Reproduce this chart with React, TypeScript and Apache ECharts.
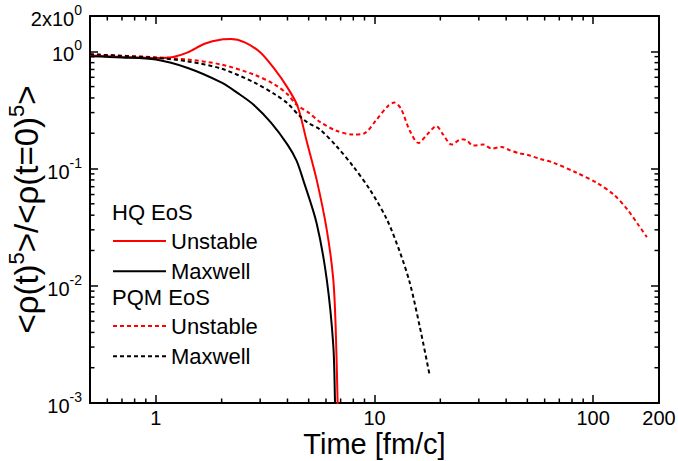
import React, { useEffect, useRef } from "react";
import * as echarts from "echarts";

// Axis ranges
const X_MIN = 0.5;
const X_MAX = 200;
const Y_MIN = 0.001;
const Y_MAX = 2;

// Minor tick values
const X_MINOR = [0.6, 0.7, 0.8, 0.9, 2, 3, 4, 5, 6, 7, 8, 9, 20, 30, 40, 50, 60, 70, 80, 90];
const Y_MINOR = [
  0.002, 0.003, 0.004, 0.005, 0.006, 0.007, 0.008, 0.009,
  0.02, 0.03, 0.04, 0.05, 0.06, 0.07, 0.08, 0.09,
  0.2, 0.3, 0.4, 0.5, 0.6, 0.7, 0.8, 0.9,
];

// HQ EoS, Unstable (red solid)
const hqUnstableT = [0.5, 0.7, 1.0, 1.2, 1.4, 1.67, 2.0, 2.2, 2.55, 3.0, 3.5, 4.0, 4.45, 4.9, 5.44, 6.05, 6.48, 6.65, 6.8];
const hqUnstableR = [0.92, 0.895, 0.875, 0.895, 0.98, 1.16, 1.26, 1.27, 1.19, 0.98, 0.7, 0.49, 0.34, 0.17, 0.08, 0.03, 0.0113, 0.0042, 0.0008];

// HQ EoS, Maxwell (black solid)
const hqMaxwellT = [0.5, 0.7, 1.0, 1.4, 2.0, 2.37, 2.8, 3.37, 4.0, 4.4, 4.72, 5.44, 6.05, 6.48, 6.6, 6.63];
const hqMaxwellR = [0.906, 0.885, 0.85, 0.72, 0.54, 0.44, 0.35, 0.245, 0.16, 0.117, 0.08, 0.034, 0.0113, 0.0031, 0.001, 0.0007];

// PQM EoS, Unstable (red dashed)
const pqmUnstableT = [0.5, 1.0, 1.4, 2.0, 2.83, 3.5, 4.0, 4.4, 5.0, 5.63, 6.7, 8.0, 9.0, 10.2, 11.5, 12.3, 13.2, 14.5, 15.9, 17.4, 19.2, 20.6, 22.5, 25.0, 26.4, 28.2, 31.5, 34.3, 38.1, 41.6, 46, 50, 57, 66, 84, 104, 124, 143, 161, 176];
const pqmUnstableR = [0.94, 0.89, 0.85, 0.77, 0.63, 0.52, 0.43, 0.35, 0.3, 0.25, 0.21, 0.195, 0.2, 0.26, 0.34, 0.365, 0.325, 0.21, 0.165, 0.195, 0.23, 0.195, 0.16, 0.178, 0.174, 0.157, 0.16, 0.148, 0.153, 0.143, 0.135, 0.131, 0.121, 0.112, 0.092, 0.0755, 0.06, 0.045, 0.033, 0.026];

// PQM EoS, Maxwell (black dashed)
const pqmMaxwellT = [0.5, 1.0, 1.4, 2.0, 2.83, 3.5, 4.0, 4.56, 4.97, 5.63, 6.7, 8.0, 9.53, 11.4, 13.1, 14.5, 16.1, 17.9];
const pqmMaxwellR = [0.943, 0.878, 0.82, 0.71, 0.54, 0.43, 0.36, 0.279, 0.245, 0.215, 0.155, 0.104, 0.066, 0.0367, 0.0191, 0.0106, 0.0045, 0.0017];

const SERIES_NAMES = ["HQ Unstable", "HQ Maxwell", "PQM Unstable", "PQM Maxwell"];
const GROUP_TITLES = ["HQ EoS", "PQM EoS"];

const FONT = "'Liberation Sans', Arial, Helvetica, sans-serif";

const zip = (a: number[], b: number[]) => a.map((v, i) => [v, b[i]]);

export default function App() {
  const ref = useRef<HTMLDivElement>(null);

  useEffect(() => {
    if (!ref.current) return;
    const chart = echarts.init(ref.current, undefined, { renderer: "svg" });

    const lineSeries = (name: string, data: number[][], color: string, dashed: boolean) => ({
      name,
      type: "line",
      data,
      xAxisIndex: 0,
      yAxisIndex: 0,
      symbol: "none",
      smooth: 0.3,
      clip: true,
      lineStyle: { color, width: 2, type: dashed ? [4, 3] : "solid" },
      itemStyle: { color },
    });

    const tickStyle = { stroke: "#000", lineWidth: 1.5 };

    const labelRich = {
      b: { fontSize: 20, fontFamily: FONT, color: "#000", lineHeight: 26, verticalAlign: "bottom" },
      s: { fontSize: 14, fontFamily: FONT, color: "#000", lineHeight: 14, verticalAlign: "top" },
    };

    const commonX = {
      type: "log",
      logBase: 10,
      min: X_MIN,
      max: X_MAX,
      splitLine: { show: false },
      axisLine: { show: true, onZero: false, lineStyle: { color: "#000", width: 2 } },
      axisTick: { show: true, inside: true, length: 8, lineStyle: { color: "#000", width: 1.5 } },
    };
    const commonY = {
      type: "log",
      logBase: 10,
      min: Y_MIN,
      max: Y_MAX,
      splitLine: { show: false },
      axisLine: { show: true, onZero: false, lineStyle: { color: "#000", width: 2 } },
      axisTick: { show: true, inside: true, length: 8, lineStyle: { color: "#000", width: 1.5 } },
    };

    const legendBase = {
      orient: "vertical",
      left: 112,
      padding: 0,
      itemWidth: 53,
      itemHeight: 20,
      itemGap: 8.33,
      selectedMode: false,
      itemStyle: { opacity: 0, borderWidth: 0 },
      formatter: (n: string) => n.replace(/^(HQ|PQM) /, ""),
      textStyle: { fontSize: 22, fontFamily: FONT, color: "#000", lineHeight: 20 },
    };

    const option: any = {
      animation: false,
      backgroundColor: "#fff",
      grid: { left: 90, right: 19, top: 16, bottom: 58, containLabel: false, outerBoundsMode: "none" },
      xAxis: [
        {
          ...commonX,
          position: "bottom",
          name: "Time [fm/c]",
          nameLocation: "middle",
          nameGap: 26,
          nameMoveOverlap: false,
          nameTextStyle: { fontSize: 29, fontFamily: FONT, color: "#000" },
          axisLabel: {
            show: true,
            margin: 5,
            fontSize: 20,
            fontFamily: FONT,
            color: "#000",
            formatter: (v: number) => (v < 0.9 ? "" : String(Math.round(v))),
          },
        },
        { ...commonX, position: "top", axisLabel: { show: false } },
      ],
      yAxis: [
        {
          ...commonY,
          position: "left",
          name: "<ρ(t){s|5}>/<ρ(t=0){s|5}>",
          nameLocation: "middle",
          nameGap: 43,
          nameMoveOverlap: false,
          nameTextStyle: {
            fontSize: 33,
            fontFamily: FONT,
            color: "#000",
            rich: {
              s: { fontSize: 22, fontFamily: FONT, color: "#000", verticalAlign: "top", lineHeight: 22 },
            },
            lineHeight: 42,
          },
          axisLabel: {
            show: true,
            margin: 8,
            formatter: (v: number) => {
              if (Math.abs(v - 2) < 1e-6) return "{b|2x10}{s|0}";
              const e = Math.round(Math.log10(v));
              return "{b|10}{s|" + e + "}";
            },
            rich: labelRich,
          },
        },
        { ...commonY, position: "right", axisLabel: { show: false } },
      ],
      legend: [
        { ...legendBase, data: [SERIES_NAMES[0], SERIES_NAMES[1]], top: 230 },
        { ...legendBase, data: [SERIES_NAMES[2], SERIES_NAMES[3]], top: 315 },
      ],
      graphic: [
        {
          type: "text",
          left: 112,
          top: 201,
          style: { text: GROUP_TITLES[0], fontSize: 22, fontFamily: FONT, fill: "#000" },
        },
        {
          type: "text",
          left: 112,
          top: 286,
          style: { text: GROUP_TITLES[1], fontSize: 22, fontFamily: FONT, fill: "#000" },
        },
      ],
      series: [
        lineSeries(SERIES_NAMES[0], zip(hqUnstableT, hqUnstableR), "#ff0000", false),
        lineSeries(SERIES_NAMES[1], zip(hqMaxwellT, hqMaxwellR), "#000000", false),
        lineSeries(SERIES_NAMES[2], zip(pqmUnstableT, pqmUnstableR), "#ff0000", true),
        lineSeries(SERIES_NAMES[3], zip(pqmMaxwellT, pqmMaxwellR), "#000000", true),
        {
          type: "custom",
          silent: true,
          xAxisIndex: 0,
          yAxisIndex: 0,
          data: X_MINOR.map((v) => [v, Y_MIN]),
          renderItem: (_p: any, api: any) => {
            const v = api.value(0);
            const b = api.coord([v, Y_MIN]);
            const t = api.coord([v, Y_MAX]);
            return {
              type: "group",
              children: [
                { type: "line", shape: { x1: b[0], y1: b[1], x2: b[0], y2: b[1] - 4.5 }, style: tickStyle },
                { type: "line", shape: { x1: t[0], y1: t[1], x2: t[0], y2: t[1] + 4.5 }, style: tickStyle },
              ],
            };
          },
        },
        {
          type: "custom",
          silent: true,
          xAxisIndex: 0,
          yAxisIndex: 0,
          data: Y_MINOR.map((v) => [X_MIN, v]),
          renderItem: (_p: any, api: any) => {
            const v = api.value(1);
            const l = api.coord([X_MIN, v]);
            const r = api.coord([X_MAX, v]);
            return {
              type: "group",
              children: [
                { type: "line", shape: { x1: l[0], y1: l[1], x2: l[0] + 4.5, y2: l[1] }, style: tickStyle },
                { type: "line", shape: { x1: r[0], y1: r[1], x2: r[0] - 4.5, y2: r[1] }, style: tickStyle },
              ],
            };
          },
        },
      ],
    };

    chart.setOption(option);
    return () => chart.dispose();
  }, []);

  return (
    <div
      ref={ref}
      style={{ position: "fixed", left: 0, top: 0, width: 678, height: 461, background: "#fff" }}
    />
  );
}
